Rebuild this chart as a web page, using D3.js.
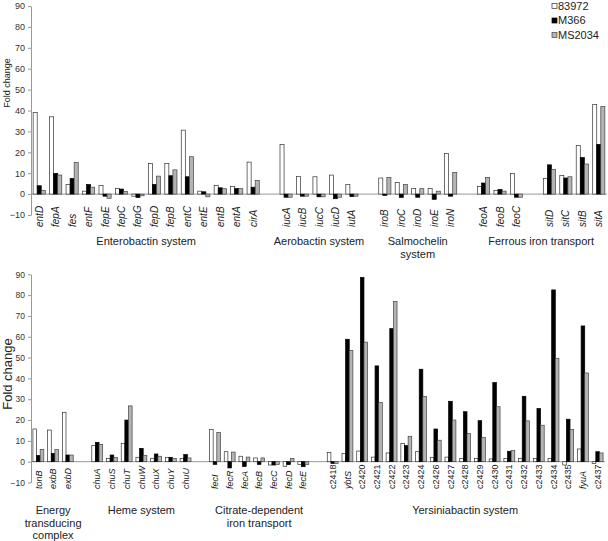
<!DOCTYPE html>
<html><head><meta charset="utf-8">
<script src="https://cdn.jsdelivr.net/npm/d3@7"></script>
<style>body{margin:0;background:#fff}svg{display:block}text{font-family:"Liberation Sans",Arial,sans-serif}</style>
</head><body><svg id="c" width="608" height="541"></svg>
<script>
// ---------- data ----------
const seriesNames = ["83972", "M366", "MS2034"];
const yTicks = [-10, 0, 10, 20, 30, 40, 50, 60, 70, 80, 90];

const topGenes = ["entD","fepA","fes","entF","fepE","fepC","fepG","fepD","fepB","entC","entE","entB","entA","cirA",
  "iucA","iucB","iucC","iucD","iutA",
  "iroB","iroC","iroD","iroE","iroN",
  "feoA","feoB","feoC",
  "sitD","sitC","sitB","sitA"];
const top83972 = [39.1,37.0,4.6,1.4,4.1,2.7,-1.0,14.7,14.7,30.6,1.4,4.1,3.7,15.3,
  23.8,8.5,8.3,9.1,4.6,
  7.7,5.6,2.7,2.7,19.5,
  3.7,1.8,9.9,
  7.5,8.9,23.3,42.9];
const topM366 = [4.0,9.9,7.5,4.6,-1.0,2.4,-1.6,4.6,8.8,8.3,1.1,3.0,2.7,3.3,
  -1.5,-1.0,-1.3,-2.2,-1.2,
  -0.6,-1.6,-1.5,-2.5,-1.0,
  5.3,2.2,-1.5,
  14.0,7.7,17.5,23.8];
const topMS2034 = [1.8,9.1,15.1,3.3,-2.0,1.3,-0.8,8.6,11.6,17.9,-1.3,2.6,2.6,6.5,
  -1.5,-1.0,-1.3,-1.5,-1.0,
  8.0,4.6,2.6,1.4,10.4,
  8.0,1.4,-1.5,
  11.8,8.3,14.4,41.9];
const topGapsAfter = ["cirA","iutA","iroN","feoC"];
const topGroups = [
  {lines: ["Enterobactin system"], from: "entD", to: "cirA"},
  {lines: ["Aerobactin system"], from: "iucA", to: "iutA"},
  {lines: ["Salmochelin", "system"], from: "iroB", to: "iroN"},
  {lines: ["Ferrous iron transport"], from: "feoA", to: "sitA"}
];

const botGenes = ["tonB","exbB","exbD",
  "chuA","chuS","chuT","chuW","chuX","chuY","chuU",
  "fecI","fecR","fecA","fecB","fecC","fecD","fecE",
  "c2418","ybtS","c2420","c2421","c2422","c2423","c2424","c2426","c2427","c2428","c2429","c2430","c2431","c2432","c2433","c2434","c2435","fyuA","c2437"];
const bot83972 = [15.7,15.2,23.7,
  7.7,1.6,8.8,2.1,1.6,2.1,1.6,
  15.5,4.8,2.6,1.8,-1.6,-2.2,-1.3,
  4.5,4.0,5.1,2.2,4.2,8.8,4.8,2.1,2.2,1.6,1.6,1.3,1.6,1.6,1.6,1.6,-1.6,6.1,-0.8];
const botM366 = [3.0,4.0,3.2,
  9.3,3.2,20.0,6.4,3.7,2.1,3.4,
  -1.3,-3.0,-2.3,-1.3,-1.6,-1.4,-2.4,
  -0.8,58.8,88.5,46.0,63.9,7.7,44.4,15.7,29.0,24.0,19.7,38.0,5.0,31.4,25.5,82.5,20.4,65.2,4.8];
const botMS2034 = [5.9,5.9,3.2,
  8.3,2.1,26.8,3.0,2.6,1.6,1.8,
  14.1,4.6,2.2,1.8,-1.3,1.6,-1.4,
  -0.8,53.4,57.4,28.4,76.9,12.2,31.4,10.3,20.0,13.6,11.7,26.4,5.3,19.6,17.5,49.5,15.4,42.6,4.2];
const botGapsAfter = ["exbD","chuU","fecE"];
const botGroups = [
  {lines: ["Energy", "transducing", "complex"], from: "tonB", to: "exbD"},
  {lines: ["Heme system"], from: "chuA", to: "chuU"},
  {lines: ["Citrate-dependent", "iron transport"], from: "fecI", to: "fecE"},
  {lines: ["Yersiniabactin system"], from: "c2418", to: "c2437"}
];

// ---------- drawing ----------
const svg = d3.select("#c");
const fills = ["#ffffff", "#000000", "#b4b4b4"];
const strokes = ["#333333", "#000000", "#444444"];

function drawPanel(cfg) {
  const domain = [];
  cfg.genes.forEach(g => {
    domain.push(g);
    const k = cfg.gaps.indexOf(g);
    if (k >= 0) domain.push("_gap" + k);
  });
  const x = d3.scaleBand().domain(domain).range(cfg.xr).paddingInner(0.26).paddingOuter(0.13);
  const xs = d3.scaleBand().domain(seriesNames).range([0, x.bandwidth()]);
  const y = d3.scaleLinear().domain([-10, 90]).range(cfg.yr);
  const g = svg.append("g");

  // baseline at zero
  g.append("line").attr("x1", cfg.xr[0]).attr("x2", cfg.xr[1])
    .attr("y1", y(0)).attr("y2", y(0)).attr("stroke", "#999").attr("stroke-width", 1);

  // y axis
  const ax = g.append("g").attr("transform", `translate(${cfg.xr[0]},0)`)
    .call(d3.axisLeft(y).tickValues(yTicks).tickSize(3).tickPadding(3).tickSizeOuter(0));
  ax.select(".domain").attr("stroke", "#999");
  ax.selectAll(".tick line").attr("stroke", "#999");
  ax.selectAll(".tick text").attr("fill", "#333").style("font-size", cfg.tickFont)
    .style("font-family", '"Liberation Sans",Arial,sans-serif');

  // bars
  const rows = cfg.genes.map((gn, i) => ({gene: gn, vals: cfg.series.map(s => s[i])}));
  const grp = g.selectAll(".gg").data(rows).join("g")
    .attr("transform", d => `translate(${x(d.gene)},0)`);
  grp.selectAll("rect").data(d => d.vals.map((v, j) => ({v, j}))).join("rect")
    .attr("x", d => xs(seriesNames[d.j]))
    .attr("width", xs.bandwidth())
    .attr("y", d => Math.min(y(d.v), y(0)))
    .attr("height", d => Math.abs(y(d.v) - y(0)))
    .attr("fill", d => fills[d.j])
    .attr("stroke", d => strokes[d.j])
    .attr("stroke-width", 0.7);

  // gene labels
  g.selectAll(".gl").data(cfg.genes).join("text")
    .attr("transform", d => `translate(${x(d) + x.bandwidth() / 2},${cfg.labelY}) rotate(-90)`)
    .attr("dy", "0.35em")
    .attr("text-anchor", "start")
    .style("font-size", cfg.labelFont)
    .style("font-style", d => /^c\d+$/.test(d) ? "normal" : "italic")
    .attr("fill", "#222")
    .text(d => d);

  // group labels
  cfg.groups.forEach(gr => {
    const cx = (x(gr.from) + x(gr.to) + x.bandwidth()) / 2;
    const t = g.append("text").attr("text-anchor", "middle").attr("fill", "#222")
      .style("font-size", "11px");
    gr.lines.forEach((ln, i) => {
      t.append("tspan").attr("x", cx).attr("y", cfg.groupY + i * cfg.lineH).text(ln);
    });
  });

  // y title
  g.append("text").attr("transform", `translate(${cfg.titleX},${cfg.titleY}) rotate(-90)`)
    .attr("text-anchor", "middle").attr("fill", "#222").style("font-size", cfg.titleFont)
    .text("Fold change");
}

drawPanel({
  genes: topGenes, series: [top83972, topM366, topMS2034], gaps: topGapsAfter, groups: topGroups,
  xr: [31, 607], yr: [215, 6], labelY: 227, groupY: 245, lineH: 12.5,
  titleX: 10, titleY: 83, titleFont: "9px", tickFont: "9px", labelFont: "10px"
});
drawPanel({
  genes: botGenes, series: [bot83972, botM366, botMS2034], gaps: botGapsAfter, groups: botGroups,
  xr: [31, 605], yr: [482.5, 274.3], labelY: 489, groupY: 514, lineH: 12.5,
  titleX: 12, titleY: 374, titleFont: "13px", tickFont: "8.5px", labelFont: "9px"
});

// legend
const leg = svg.append("g").attr("transform", "translate(552,6)");
seriesNames.forEach((s, i) => {
  const r = leg.append("g").attr("transform", `translate(0,${i * 14.5})`);
  r.append("rect").attr("x", 0).attr("y", -2.5).attr("width", 5).attr("height", 5)
    .attr("fill", fills[i]).attr("stroke", strokes[i]).attr("stroke-width", 0.7);
  r.append("text").attr("x", 6).attr("y", 0).attr("dy", "0.35em").attr("fill", "#222")
    .style("font-size", "11px").text(s);
});
</script></body></html>
